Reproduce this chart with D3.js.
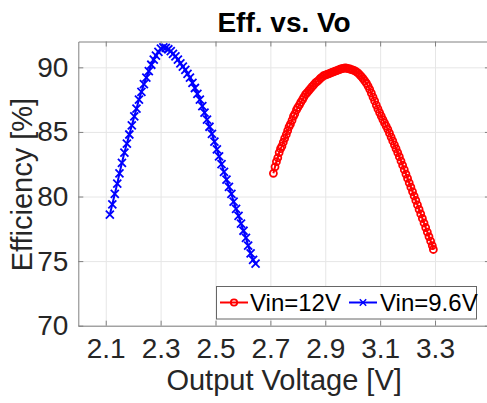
<!DOCTYPE html>
<html><head><meta charset="utf-8">
<script src="https://cdn.jsdelivr.net/npm/d3@7"></script>
<style>
body{margin:0;background:#fff}
svg{display:block}
text{font-family:"Liberation Sans",Arial,Helvetica,sans-serif}
</style>
</head><body>
<svg id="chart" width="487" height="403"></svg>
<script>
const chartTitle = "Eff. vs. Vo";
const xLabel = "Output Voltage [V]";
const yLabel = "Efficiency [%]";
const xTicks = [2.1, 2.3, 2.5, 2.7, 2.9, 3.1, 3.3];
const yTicks = [70, 75, 80, 85, 90];
const seriesNames = ["Vin=12V", "Vin=9.6V"];

// Vin = 9.6 V
const vo96 = [2.115,2.124,2.133,2.142,2.150,2.159,2.168,2.177,2.186,2.195,2.204,2.212,2.221,2.230,2.239,2.248,2.257,2.266,2.275,2.283,2.292,2.301,2.310,
  2.319,2.328,2.337,2.345,2.354,2.363,2.372,2.381,2.390,2.398,2.407,2.416,2.425,2.434,2.443,2.452,2.460,2.469,2.478,2.487,2.496,2.505,2.513,2.522,2.531,2.540,2.549,2.558,2.566,2.575,2.584,2.593,2.602,2.611,2.619,2.628,2.637,2.646];
const eff96 = [78.6,79.4,80.2,81.0,81.8,82.6,83.4,84.1,84.8,85.5,86.2,86.8,87.5,88.1,88.7,89.2,89.7,90.2,90.6,90.9,91.2,91.45,91.55,
  91.5,91.4,91.25,91.05,90.85,90.6,90.3,90.05,89.8,89.5,89.2,88.8,88.4,87.95,87.5,87.0,86.5,85.95,85.4,84.85,84.25,83.65,83.1,82.5,81.9,81.3,80.75,80.2,79.6,79.05,78.5,77.9,77.35,76.8,76.2,75.6,75.1,74.8];

// Vin = 12 V
const vo12 = [2.711,2.717,2.722,2.727,2.732,2.737,2.742,2.747,2.752,2.758,2.763,2.768,2.773,2.779,2.784,2.789,2.795,2.800,2.806,2.811,2.817,2.822,2.828,2.834,2.840,2.846,2.852,2.858,2.864,2.870,2.876,2.882,2.888,2.894,2.900,2.906,2.912,2.918,2.924,2.930,2.936,2.942,2.948,2.954,2.960,2.966,
  2.972,2.978,2.984,2.990,2.996,3.002,3.008,3.014,3.020,3.026,3.032,3.038,3.044,3.050,3.056,3.062,3.068,3.074,3.080,3.086,3.092,3.098,3.104,3.110,3.116,3.122,3.128,3.134,3.140,3.146,3.152,3.158,3.164,3.170,3.176,3.182,3.188,3.194,3.200,3.206,3.212,3.218,3.224,3.230,3.236,3.242,3.248,3.254,3.260,3.266,3.272,3.278,3.284,3.290,3.294];
const eff12 = [81.8,82.3,82.7,83.0,83.4,83.7,83.9,84.2,84.5,84.8,85.1,85.4,85.6,85.9,86.2,86.4,86.7,86.9,87.1,87.3,87.5,87.7,87.9,88.05,88.2,88.35,88.5,88.65,88.8,88.9,89.0,89.15,89.25,89.35,89.4,89.45,89.5,89.55,89.6,89.65,89.7,89.75,89.8,89.85,89.9,89.92,
  89.95,89.93,89.9,89.87,89.83,89.78,89.72,89.65,89.55,89.42,89.28,89.12,88.95,88.77,88.55,88.3,88.0,87.7,87.4,87.08,86.78,86.5,86.23,85.96,85.7,85.45,85.2,84.9,84.6,84.3,84.0,83.7,83.4,83.08,82.75,82.42,82.08,81.74,81.4,81.06,80.72,80.38,80.04,79.7,79.35,79.0,78.65,78.3,77.95,77.6,77.25,76.9,76.55,76.2,75.9];

const svg = d3.select("#chart");
const L = 78.3, T = 41.5, B = 325.7;
const x = d3.scaleLinear().domain([2.0, 3.5]).range([L, L + 1.5 * 274.4]);
const y = d3.scaleLinear().domain([70, 92]).range([B, T]);
const R = x.range()[1];
const axisCol = "#808080";
const textCol = "#262626";

// grid
const g = svg.append("g");
g.append("g").attr("transform", `translate(0,${B})`)
  .call(d3.axisBottom(x).tickValues(xTicks).tickSize(-(B - T)).tickFormat(""))
  .call(s => { s.select(".domain").remove(); s.selectAll("line").attr("stroke", "#e6e6e6"); });
g.append("g").attr("transform", `translate(${L},0)`)
  .call(d3.axisLeft(y).tickValues(yTicks).tickSize(-(R - L)).tickFormat(""))
  .call(s => { s.select(".domain").remove(); s.selectAll("line").attr("stroke", "#e6e6e6"); });

// box axes
function styleAxis(s) {
  s.select(".domain").attr("stroke", axisCol).attr("stroke-width", 1);
  s.selectAll(".tick line").attr("stroke", axisCol);
  s.selectAll(".tick text").attr("fill", textCol).style("font-size", "28px")
    .style("font-family", '"Liberation Sans", Arial, sans-serif');
}
svg.append("g").attr("transform", `translate(0,${B})`)
  .call(d3.axisBottom(x).tickValues(xTicks).tickSizeInner(-5).tickSizeOuter(0).tickPadding(12).tickFormat(d3.format(".1f")))
  .call(styleAxis);
svg.append("g").attr("transform", `translate(0,${T})`)
  .call(d3.axisTop(x).tickValues(xTicks).tickSizeInner(-5).tickSizeOuter(0).tickFormat(""))
  .call(styleAxis);
svg.append("g").attr("transform", `translate(${L},0)`)
  .call(d3.axisLeft(y).tickValues(yTicks).tickSizeInner(-5).tickSizeOuter(0).tickPadding(10).tickFormat(d3.format("d")))
  .call(styleAxis);
svg.append("g").attr("transform", `translate(${R},0)`)
  .call(d3.axisRight(y).tickValues(yTicks).tickSizeInner(-5).tickSizeOuter(0).tickFormat(""))
  .call(styleAxis);

// series
const d12 = vo12.map((v, i) => [v, eff12[i]]);
const d96 = vo96.map((v, i) => [v, eff96[i]]);
const line = d3.line().x(d => x(d[0])).y(d => y(d[1]));

svg.append("path").datum(d12).attr("d", line).attr("fill", "none").attr("stroke", "#ff0000").attr("stroke-width", 2);
svg.append("g").selectAll("circle").data(d12).join("circle")
  .attr("cx", d => x(d[0])).attr("cy", d => y(d[1])).attr("r", 3.5)
  .attr("fill", "none").attr("stroke", "#ff0000").attr("stroke-width", 1.8);

const xMark = "M-4,-4L4,4M-4,4L4,-4";
svg.append("path").datum(d96).attr("d", line).attr("fill", "none").attr("stroke", "#0000ff").attr("stroke-width", 2);
svg.append("g").selectAll("path").data(d96).join("path")
  .attr("transform", d => `translate(${x(d[0])},${y(d[1])})`).attr("d", xMark)
  .attr("fill", "none").attr("stroke", "#0000ff").attr("stroke-width", 1.8);

// title and labels
svg.append("text").attr("x", x(2.75)).attr("y", 31.5).attr("text-anchor", "middle")
  .attr("font-weight", "bold").style("font-size", "28px").attr("fill", "#000").text(chartTitle);
svg.append("text").attr("x", x(2.75)).attr("y", 390).attr("text-anchor", "middle")
  .style("font-size", "29px").attr("fill", textCol).text(xLabel);
svg.append("text").attr("transform", `translate(32,${(T + B) / 2 + 1}) rotate(-90)`).attr("text-anchor", "middle")
  .style("font-size", "29px").attr("fill", textCol).text(yLabel);

// legend
const lg = svg.append("g");
lg.append("rect").attr("x", 216.5).attr("y", 286.5).attr("width", 260).attr("height", 32.5)
  .attr("fill", "#fff").attr("stroke", "#666").attr("stroke-width", 1);
const legendItems = [
  { name: seriesNames[0], color: "#ff0000", marker: "circle", x0: 220, tx: 250 },
  { name: seriesNames[1], color: "#0000ff", marker: "x", x0: 349, tx: 380 }
];
legendItems.forEach(it => {
  const ly = 302.5;
  lg.append("line").attr("x1", it.x0).attr("x2", it.x0 + 28).attr("y1", ly).attr("y2", ly)
    .attr("stroke", it.color).attr("stroke-width", 2);
  if (it.marker === "circle") {
    lg.append("circle").attr("cx", it.x0 + 14).attr("cy", ly).attr("r", 3.2)
      .attr("fill", "none").attr("stroke", it.color).attr("stroke-width", 1.8);
  } else {
    lg.append("path").attr("transform", `translate(${it.x0 + 14},${ly}) scale(0.8)`).attr("d", xMark)
      .attr("fill", "none").attr("stroke", it.color).attr("stroke-width", 1.8);
  }
  lg.append("text").attr("x", it.tx).attr("y", ly + 8.5).style("font-size", "24px").attr("fill", "#000").text(it.name);
});
</script>
</body></html>
